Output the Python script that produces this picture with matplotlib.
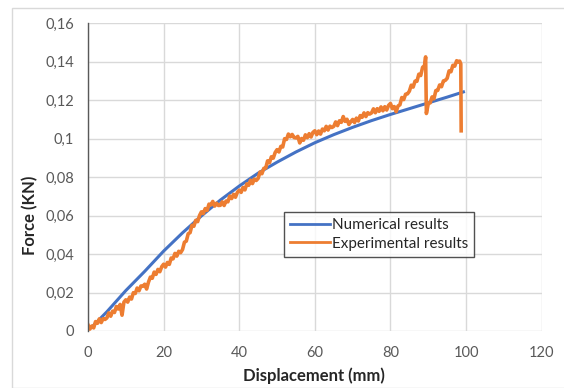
import matplotlib.pyplot as plt
from matplotlib.patches import Rectangle

plt.rcParams['font.family'] = ['Lato', 'DejaVu Sans']

# numerical model (smooth curve)
num_x = [1.5, 5, 10, 15, 20, 25, 30, 35, 40, 45, 50, 55, 60, 65, 70, 75, 80, 85, 90, 95, 99.3]
num_y = [0.003, 0.010, 0.021, 0.031, 0.0415, 0.051, 0.0598, 0.0680, 0.0753, 0.0820, 0.0877,
         0.0930, 0.0978, 0.1020, 0.1058, 0.1093, 0.1125, 0.1155, 0.1185, 0.1215, 0.1242]

# experimental record, sampled every 0.5 mm
exp_x = [i * 0.5 for i in range(179)] + [89.3, 89.5] + [90 + i * 0.5 for i in range(17)] + [98.3, 98.6, 98.7]
exp_y = [
    0.0032, 0.0010, 0.0026, 0.0016, 0.0049, 0.0040, 0.0063, 0.0044, 0.0064, 0.0060,
    0.0068, 0.0094, 0.0077, 0.0103, 0.0096, 0.0127, 0.0114, 0.0138, 0.0082, 0.0150,
    0.0162, 0.0150, 0.0176, 0.0166, 0.0199, 0.0195, 0.0223, 0.0209, 0.0234, 0.0232,
    0.0243, 0.0218, 0.0254, 0.0280, 0.0274, 0.0306, 0.0294, 0.0320, 0.0308, 0.0334,
    0.0347, 0.0332, 0.0356, 0.0346, 0.0379, 0.0375, 0.0403, 0.0389, 0.0414, 0.0407,
    0.0423, 0.0461, 0.0467, 0.0505, 0.0511, 0.0549, 0.0544, 0.0575, 0.0568, 0.0600,
    0.0619, 0.0610, 0.0636, 0.0626, 0.0659, 0.0655, 0.0673, 0.0649, 0.0664, 0.0652,
    0.0653, 0.0671, 0.0652, 0.0675, 0.0671, 0.0701, 0.0688, 0.0710, 0.0695, 0.0720,
    0.0732, 0.0720, 0.0746, 0.0733, 0.0764, 0.0757, 0.0783, 0.0766, 0.0789, 0.0782,
    0.0793, 0.0826, 0.0817, 0.0845, 0.0846, 0.0884, 0.0874, 0.0905, 0.0898, 0.0927,
    0.0942, 0.0930, 0.0959, 0.0956, 0.0999, 0.0995, 0.1023, 0.1009, 0.1021, 0.1005,
    0.1003, 0.1011, 0.0977, 0.1000, 0.0991, 0.1019, 0.1004, 0.1025, 0.1008, 0.1032,
    0.1040, 0.1020, 0.1039, 0.1023, 0.1049, 0.1040, 0.1063, 0.1044, 0.1064, 0.1057,
    0.1063, 0.1086, 0.1067, 0.1092, 0.1084, 0.1114, 0.1089, 0.1100, 0.1073, 0.1087,
    0.1099, 0.1083, 0.1106, 0.1091, 0.1119, 0.1110, 0.1133, 0.1114, 0.1134, 0.1127,
    0.1133, 0.1154, 0.1134, 0.1155, 0.1141, 0.1164, 0.1144, 0.1165, 0.1148, 0.1172,
    0.1182, 0.1155, 0.1166, 0.1139, 0.1169, 0.1175, 0.1213, 0.1202, 0.1230, 0.1232,
    0.1246, 0.1277, 0.1267, 0.1298, 0.1297, 0.1334, 0.1327, 0.1370, 0.1378,
    0.1424, 0.1130,
    0.1182, 0.1185, 0.1216, 0.1206, 0.1249, 0.1250, 0.1278, 0.1269, 0.1299, 0.1302,
    0.1313, 0.1351, 0.1347, 0.1380, 0.1376, 0.1404, 0.1398,
    0.1402, 0.1388, 0.1040,
]

y_ticks = [0, 0.02, 0.04, 0.06, 0.08, 0.1, 0.12, 0.14, 0.16]
y_labels = ['0', '0,02', '0,04', '0,06', '0,08', '0,1', '0,12', '0,14', '0,16']
x_ticks = [0, 20, 40, 60, 80, 100, 120]

W, H = 564, 388
fig = plt.figure(figsize=(W / 100, H / 100), dpi=100)

# chart area border
fig.patches.append(Rectangle((12 / W, 0), 1.2, 1 - 8 / H, transform=fig.transFigure,
                             fill=False, edgecolor='#d9d9d9', linewidth=1))

ax = fig.add_axes([88 / W, 1 - 331 / H, (541.7 - 88) / W, (331 - 23) / H])

ax.plot(num_x, num_y, color='#4472C4', linewidth=2.2, label='Numerical results')
ax.plot(exp_x, exp_y, color='#ED7D31', linewidth=2.6, label='Experimental results')

ax.set_xlim(0, 120)
ax.set_ylim(0, 0.16)
ax.set_xticks(x_ticks)
ax.set_yticks(y_ticks)
ax.set_yticklabels(y_labels)
ax.tick_params(length=0, labelsize=10.5, labelcolor='#595959')
ax.tick_params(axis='y', pad=10)
ax.tick_params(axis='x', pad=11)
ax.grid(True, color='#d9d9d9', linewidth=1)
ax.set_axisbelow(True)
for s in ['top', 'right', 'bottom']:
    ax.spines[s].set_visible(False)
ax.spines['left'].set_color('#595959')
ax.spines['left'].set_linewidth(1)

fig.text(314 / W, 1 - 376 / H, 'Displacement (mm)', ha='center', va='center',
         fontsize=12, fontweight='bold', color='#262626')
fig.text(30 / W, 1 - 215 / H, 'Force (KN)', ha='center', va='center', rotation=90,
         fontsize=12, fontweight='bold', color='#262626')

leg = ax.legend(loc='upper left', bbox_to_anchor=((284 - 88) / 453.7, (331 - 212) / 308),
                borderaxespad=0, fancybox=False, frameon=True, fontsize=11,
                handlelength=2.6, handletextpad=0.15, borderpad=0.4, labelspacing=0.3)
leg.get_frame().set_edgecolor('#262626')
leg.get_frame().set_linewidth(1)
for line in leg.get_lines():
    line.set_linewidth(2)
for t in leg.get_texts():
    t.set_color('#262626')

fig.savefig('out.png', dpi=100)
